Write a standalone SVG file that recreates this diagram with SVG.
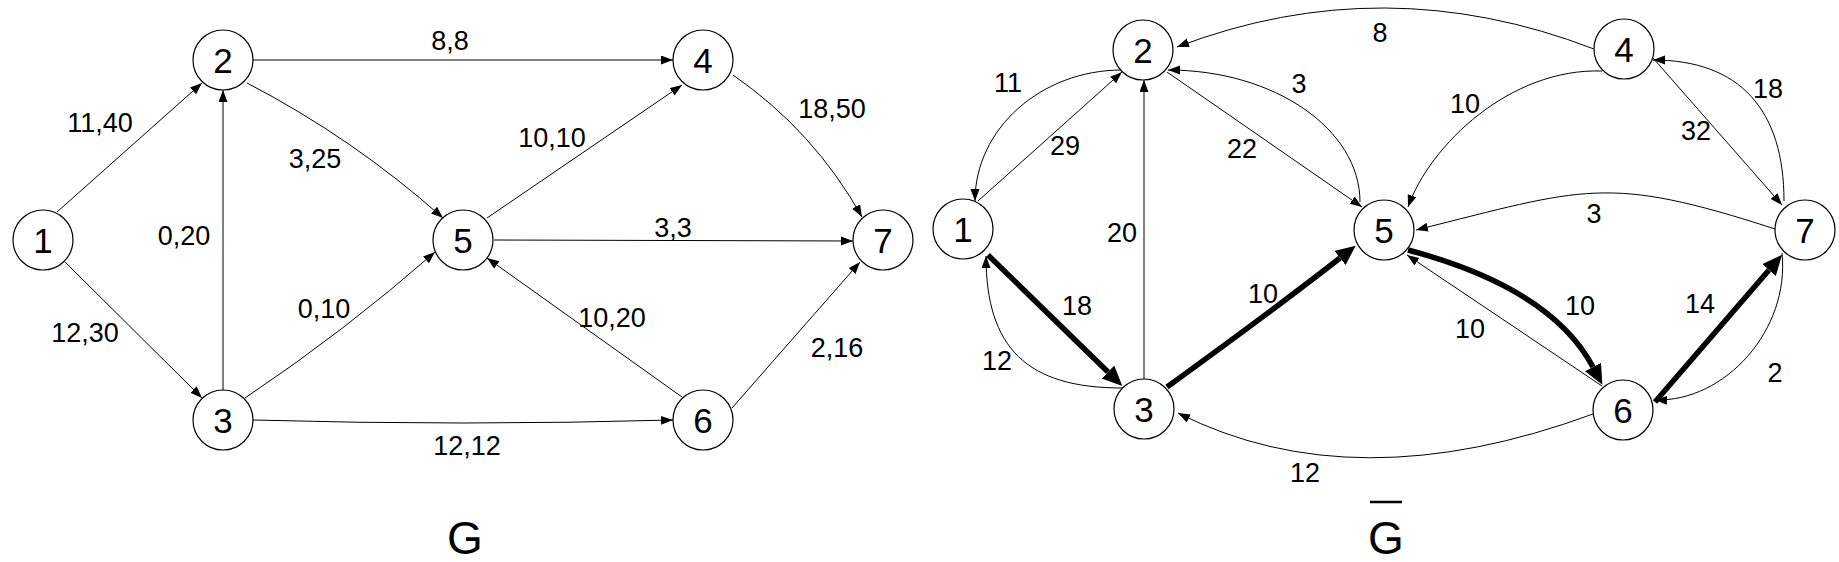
<svg xmlns="http://www.w3.org/2000/svg" width="1839" height="562" viewBox="0 0 1839 562">
<style>
.n circle{fill:#fff;stroke:#000;stroke-width:1.2}
.n text{font-family:"Liberation Sans",Arial,sans-serif;font-size:35px;text-anchor:middle;fill:#000}
.c path{fill:none;stroke:#000;stroke-width:1}
.c path.t{stroke-width:5.5}
.c path.a{marker-end:url(#ah)}
.c path.b{marker-end:url(#ahb)}
.lbl text{font-family:"Liberation Sans",Arial,sans-serif;font-size:27px;text-anchor:middle;fill:#000}
.title{font-family:"Liberation Sans",Arial,sans-serif;font-size:46px;text-anchor:middle;fill:#000}
</style>
<defs>
<marker id="ah" markerUnits="userSpaceOnUse" markerWidth="13" markerHeight="10" refX="12" refY="4.5" orient="auto"><path d="M0,0 L12,4.5 L0,9 z" fill="#000"/></marker>
<marker id="ahb" markerUnits="userSpaceOnUse" markerWidth="21" markerHeight="19" refX="0" refY="9" orient="auto"><path d="M0,0 L20,9 L0,18 z" fill="#000"/></marker>
</defs>
<rect width="1839" height="562" fill="#fff"/>
<g id="connectors" class="c">
<path class="a" d="M253,60 L673,60"/>
<path class="a" d="M57,212 L202,83"/>
<path class="a" d="M65,262 L202,398"/>
<path class="a" d="M223,390 L223,90"/>
<path class="a" d="M247,83 Q353,138 443,218"/>
<path class="a" d="M487,218 L682,85"/>
<path class="a" d="M733,75 Q814,131 862,217"/>
<path class="a" d="M494,240 L853,241"/>
<path class="a" d="M245,398 Q345,331 435,252"/>
<path class="a" d="M682,397 L487,258"/>
<path class="a" d="M732,408 L860,262"/>
<path class="a" d="M253,420 Q463,426 673,420"/>
<path class="a" d="M1594,49 Q1384,-32 1177,47"/>
<path class="a" d="M1122,70 C1041,70 975,129 975,201"/>
<path class="a" d="M978,201 L1122,72"/>
<path class="a" d="M1144,379 L1144,80"/>
<path class="a" d="M1167,72 L1362,207"/>
<path class="a" d="M1360,202 C1360,129 1274,70 1168,70"/>
<path class="a" d="M1602,71 C1510,68 1430,145 1408,207"/>
<path class="a" d="M1784,201 C1784,110 1740,60 1653,60"/>
<path class="a" d="M1653,58 L1782,205"/>
<path class="a" d="M1775,229 C1606,174 1585,188 1416,230"/>
<path class="a" d="M1602,386 L1407,255"/>
<path class="a" d="M1782,253 C1790,330 1725,402 1655,400"/>
<path class="a" d="M1593,414 Q1354,502 1178,413"/>
<path class="a" d="M1122,388 C1027,388 986,348 986,256"/>
<path class="t b" d="M988,255 L1108,372"/>
<path class="t b" d="M1167,387 Q1280,305 1340,258"/>
<path class="t b" d="M1408,250 Q1551,288 1593,367"/>
<path class="t b" d="M1655,402 L1769,270"/>
</g>
<g id="labels" class="lbl">
<text x="100" y="132">11,40</text>
<text x="315" y="168">3,25</text>
<text x="184" y="245">0,20</text>
<text x="450" y="50">8,8</text>
<text x="552" y="147">10,10</text>
<text x="832" y="118">18,50</text>
<text x="673" y="237">3,3</text>
<text x="85" y="342">12,30</text>
<text x="324" y="318">0,10</text>
<text x="467" y="455">12,12</text>
<text x="612" y="327">10,20</text>
<text x="837" y="357">2,16</text>
<text x="1380" y="42">8</text>
<text x="1008" y="92">11</text>
<text x="1065" y="155">29</text>
<text x="1299" y="93">3</text>
<text x="1242" y="158">22</text>
<text x="1122" y="242">20</text>
<text x="1465" y="113">10</text>
<text x="1768" y="98">18</text>
<text x="1696" y="140">32</text>
<text x="1594" y="223">3</text>
<text x="1077" y="315">18</text>
<text x="997" y="370">12</text>
<text x="1263" y="303">10</text>
<text x="1580" y="315">10</text>
<text x="1470" y="338">10</text>
<text x="1700" y="313">14</text>
<text x="1775" y="382">2</text>
<text x="1305" y="482">12</text>
</g>
<g id="G1" class="n"><circle cx="43" cy="240" r="30"/><text x="43" y="252.5">1</text></g>
<g id="G2" class="n"><circle cx="223" cy="60" r="30"/><text x="223" y="72.5">2</text></g>
<g id="G3" class="n"><circle cx="223" cy="420" r="30"/><text x="223" y="432.5">3</text></g>
<g id="G4" class="n"><circle cx="703" cy="60" r="30"/><text x="703" y="72.5">4</text></g>
<g id="G5" class="n"><circle cx="463" cy="240" r="30"/><text x="463" y="252.5">5</text></g>
<g id="G6" class="n"><circle cx="703" cy="420" r="30"/><text x="703" y="432.5">6</text></g>
<g id="G7" class="n"><circle cx="883" cy="240" r="30"/><text x="883" y="252.5">7</text></g>
<g id="H1" class="n"><circle cx="963" cy="229" r="30"/><text x="963" y="241.5">1</text></g>
<g id="H2" class="n"><circle cx="1143" cy="50" r="30"/><text x="1143" y="62.5">2</text></g>
<g id="H3" class="n"><circle cx="1144" cy="409" r="30"/><text x="1144" y="421.5">3</text></g>
<g id="H4" class="n"><circle cx="1624" cy="49" r="30"/><text x="1624" y="61.5">4</text></g>
<g id="H5" class="n"><circle cx="1384" cy="230" r="30"/><text x="1384" y="242.5">5</text></g>
<g id="H6" class="n"><circle cx="1623" cy="410" r="30"/><text x="1623" y="422.5">6</text></g>
<g id="H7" class="n"><circle cx="1805" cy="230" r="30"/><text x="1805" y="242.5">7</text></g>
<g id="titleG"><text class="title" x="465" y="554">G</text></g>
<g id="titleGbar"><text class="title" x="1386" y="554">G</text><line x1="1370" y1="502" x2="1402" y2="502" stroke="#000" stroke-width="2.5"/></g>
</svg>
